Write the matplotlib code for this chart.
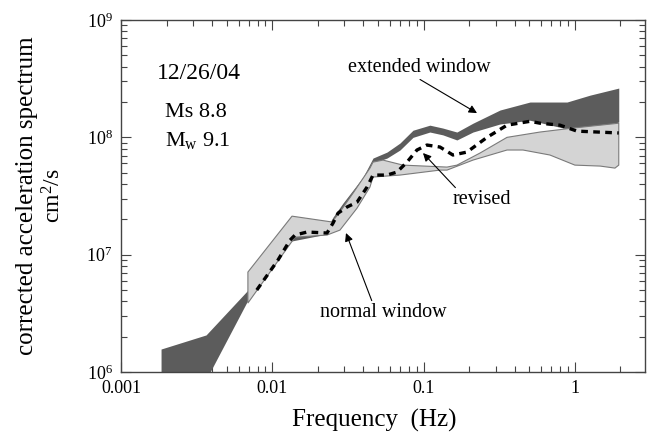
import numpy as np
import matplotlib
matplotlib.use("Agg")
import matplotlib.pyplot as plt
import matplotlib.ticker as MT

plt.rcParams['font.family'] = ['Liberation Serif', 'DejaVu Serif']
plt.rcParams['mathtext.fontset'] = 'custom'
plt.rcParams['mathtext.rm'] = 'Liberation Serif'
plt.rcParams['mathtext.it'] = 'Liberation Serif:italic'

# extended window band (Hz, cm^2/s)
ext_freq = [0.00184, 0.00365, 0.0069, 0.0131, 0.0230, 0.0252, 0.0293, 0.0342,
            0.0398, 0.0463, 0.0573, 0.0698, 0.0851, 0.110, 0.134, 0.166,
            0.212, 0.32, 0.505, 0.887, 1.26, 1.95]
ext_low = [1.6e5, 8.6e5, 4.1e6, 1.3e7, 1.5e7, 1.8e7, 2.18e7, 2.65e7,
           3.56e7, 6.04e7, 6.66e7, 7.8e7, 1.0e8, 1.11e8, 1.05e8, 9.5e7,
           1.11e8, 1.30e8, 1.40e8, 1.18e8, 1.18e8, 1.35e8]
ext_high = [1.57e6, 2.07e6, 4.99e6, 1.5e7, 1.7e7, 2.09e7, 2.75e7, 3.56e7,
            4.59e7, 6.66e7, 7.49e7, 8.94e7, 1.15e8, 1.27e8, 1.2e8, 1.11e8,
            1.32e8, 1.71e8, 2.0e8, 2.0e8, 2.29e8, 2.63e8]

# normal window band: upper and lower edges
norm_up_freq = [0.0069, 0.0135, 0.0248, 0.0280, 0.0342, 0.0442, 0.0463,
                0.0539, 0.0731, 0.1428, 0.1663, 0.236, 0.356, 0.588, 0.971,
                1.47, 1.95]
norm_up = [7.11e6, 2.13e7, 1.9e7, 2.31e7, 3.35e7, 5.47e7, 6.15e7,
           6.4e7, 5.8e7, 5.58e7, 5.8e7, 7.35e7, 1.0e8, 1.11e8, 1.2e8,
           1.27e8, 1.32e8]
norm_lo_freq = [0.0069, 0.01413, 0.0230, 0.0280, 0.0363, 0.0442, 0.0463,
                0.0698, 0.1283, 0.1428, 0.212, 0.356, 0.454, 0.684, 1.0,
                1.47, 1.84, 1.95]
norm_lo = [3.87e6, 1.41e7, 1.47e7, 1.62e7, 2.49e7, 3.77e7, 4.59e7,
           4.77e7, 5.26e7, 5.26e7, 6.4e7, 7.8e7, 7.8e7, 7.07e7, 5.8e7,
           5.69e7, 5.47e7, 5.8e7]

# revised spectrum
rev_freq = [0.0079, 0.0109, 0.0131, 0.01413, 0.01696, 0.0230, 0.0252, 0.0272,
            0.0312, 0.0363, 0.0423, 0.0463, 0.0573, 0.0667, 0.0777, 0.0904,
            0.1052, 0.1283, 0.1563, 0.1935, 0.2626, 0.356, 0.505, 0.588,
            0.797, 1.033, 1.95]
rev_amp = [5.0e6, 9.0e6, 1.33e7, 1.47e7, 1.56e7, 1.53e7, 1.86e7, 2.26e7,
           2.55e7, 2.8e7, 3.77e7, 4.77e7, 4.77e7, 5.06e7, 6.15e7, 7.8e7,
           8.6e7, 8.27e7, 7.07e7, 7.49e7, 1.0e8, 1.27e8, 1.37e8, 1.32e8,
           1.27e8, 1.13e8, 1.09e8]

fig = plt.figure(figsize=(6.54, 4.40), dpi=100)
ax = fig.add_axes([0.185, 0.1545, 0.801, 0.80])

ax.fill_between(ext_freq, ext_low, ext_high, color='#5c5c5c', lw=0, zorder=2)
ax.fill(norm_up_freq + norm_lo_freq[::-1], norm_up + norm_lo[::-1],
        facecolor='#d4d4d4', edgecolor='#7a7a7a', lw=0.8, zorder=3)
ax.plot(rev_freq, rev_amp, color='k', lw=2.4, ls=(0, (2.0, 1.6)), zorder=4)

ax.set_xscale('log')
ax.set_yscale('log')
ax.set_xlim(0.001, 2.9)
ax.set_ylim(1e6, 1e9)

ax.xaxis.set_major_locator(MT.FixedLocator([0.001, 0.01, 0.1, 1]))
ax.xaxis.set_major_formatter(MT.FixedFormatter(['0.001', '0.01', '0.1', '1']))
ax.xaxis.set_minor_locator(MT.LogLocator(base=10, subs=np.arange(2, 10)))
ax.xaxis.set_minor_formatter(MT.NullFormatter())
ax.yaxis.set_major_locator(MT.LogLocator(base=10, numticks=10))
ax.yaxis.set_minor_locator(MT.LogLocator(base=10, subs=np.arange(2, 10), numticks=10))
ax.yaxis.set_minor_formatter(MT.NullFormatter())

ax.tick_params(which='both', direction='in', top=True, right=True,
               color='#444444', width=0.8, labelsize=13)
ax.tick_params(which='major', length=7, pad=6)
ax.tick_params(which='minor', length=4)
for sp in ax.spines.values():
    sp.set_color('#444444')
    sp.set_linewidth(1.0)

fig.text(0.041, 0.556, 'corrected acceleration spectrum', rotation=90,
         ha='center', va='center', fontsize=18)
fig.text(0.083, 0.556, 'cm$^2$/s', rotation=90, ha='center', va='center',
         fontsize=17)
fig.text(0.572, 0.045, 'Frequency  (Hz)', ha='center', va='center', fontsize=18)

ax.text(0.0687, 0.849, '12/26/04', transform=ax.transAxes, ha='left',
        va='center', fontsize=17)
ax.text(0.084, 0.736, 'Ms 8.8', transform=ax.transAxes, ha='left',
        va='center', fontsize=16)
ax.text(0.084, 0.659, r'M$_\mathrm{w}$ 9.1', transform=ax.transAxes, ha='left',
        va='center', fontsize=16)

arrow = dict(arrowstyle='-|>', color='k', lw=0.8, mutation_scale=12,
             shrinkA=0, shrinkB=0)
ax.annotate('extended window', xy=(0.2255, 1.61e8), xycoords='data',
            xytext=(0.570, 0.866), textcoords='axes fraction',
            ha='center', va='center', fontsize=14.5,
            arrowprops=dict(arrow, relpos=(0.47, 0.0)))
ax.annotate('revised', xy=(0.0991, 7.35e7), xycoords='data',
            xytext=(0.688, 0.489), textcoords='axes fraction',
            ha='center', va='center', fontsize=14.5,
            arrowprops=dict(arrow, relpos=(0.1, 1.0)))
ax.annotate('normal window', xy=(0.0307, 1.53e7), xycoords='data',
            xytext=(0.5, 0.168), textcoords='axes fraction',
            ha='center', va='center', fontsize=14.5,
            arrowprops=dict(arrow, relpos=(0.42, 1.0)))

fig.savefig('out.png', dpi=100)
